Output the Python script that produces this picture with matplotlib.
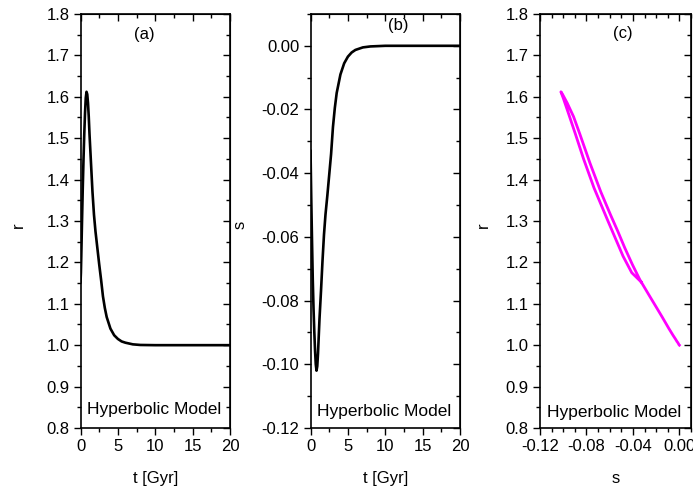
import matplotlib
matplotlib.use("Agg")
import matplotlib.pyplot as plt
from matplotlib.ticker import MultipleLocator

plt.rcParams['font.family'] = ['Liberation Sans', 'DejaVu Sans']
plt.rcParams['font.size'] = 12
plt.rcParams['axes.unicode_minus'] = False

# values (r and s of the hyperbolic model against cosmic time)
t_gyr = [0.0, 0.05, 0.1, 0.2, 0.3, 0.4, 0.5, 0.6, 0.7, 0.8,
         0.9, 1.0, 1.1, 1.2, 1.4, 1.6, 1.8, 2.0,
         2.25, 2.5, 2.75, 3.0, 3.25, 3.5,
         4.0, 4.5, 5.0, 5.5, 6.0,
         7.0, 8.0, 10.0, 15.0, 20.0]
r_vals = [1.153, 1.175, 1.215, 1.300, 1.380, 1.450, 1.510, 1.560, 1.597, 1.612,
          1.606, 1.585, 1.552, 1.510, 1.440, 1.370, 1.315, 1.275,
          1.235, 1.195, 1.158, 1.118, 1.090, 1.068,
          1.040, 1.024, 1.015, 1.009, 1.006,
          1.002, 1.0005, 1.0, 1.0, 1.0]
s_vals = [-0.0330, -0.0410, -0.0485, -0.0615, -0.0735, -0.0825, -0.0895, -0.0955, -0.1000, -0.1020,
          -0.1006, -0.0966, -0.0911, -0.0857, -0.0770, -0.0676, -0.0593, -0.0530,
          -0.0470, -0.0405, -0.0340, -0.0255, -0.0195, -0.0148,
          -0.0090, -0.0055, -0.0034, -0.0021, -0.0013,
          -0.0005, -0.0002, 0.0, 0.0, 0.0]

panel_tags = ['(a)', '(b)', '(c)']
model_name = 'Hyperbolic Model'


def style_axes(ax, xmaj, xmin, ymaj, ymin):
    # left/bottom ticks point out, top/right ticks point in (Origin look)
    ax.xaxis.set_major_locator(MultipleLocator(xmaj))
    ax.xaxis.set_minor_locator(MultipleLocator(xmin))
    ax.yaxis.set_major_locator(MultipleLocator(ymaj))
    ax.yaxis.set_minor_locator(MultipleLocator(ymin))
    ax.tick_params(which='both', direction='out', width=1.0, pad=3)
    ax.tick_params(which='major', length=5)
    ax.tick_params(which='minor', length=3)
    for sp in ax.spines.values():
        sp.set_linewidth(1.2)
    top = ax.secondary_xaxis('top')
    top.xaxis.set_major_locator(MultipleLocator(xmaj))
    top.xaxis.set_minor_locator(MultipleLocator(xmin))
    top.tick_params(which='both', direction='in', labeltop=False, width=1.0)
    top.tick_params(which='major', length=5)
    top.tick_params(which='minor', length=3)
    right = ax.secondary_yaxis('right')
    right.yaxis.set_major_locator(MultipleLocator(ymaj))
    right.yaxis.set_minor_locator(MultipleLocator(ymin))
    right.tick_params(which='both', direction='in', labelright=False, width=1.0)
    right.tick_params(which='major', length=5)
    right.tick_params(which='minor', length=3)


def place_labels(ax, ylab_x):
    ax.xaxis.label.set_verticalalignment('center')
    ax.yaxis.label.set_verticalalignment('center')
    ax.xaxis.set_label_coords(0.5, -0.121)
    ax.yaxis.set_label_coords(ylab_x, 0.49)


fig = plt.figure(figsize=(6.93, 4.88), dpi=100)
ax1 = fig.add_axes([0.1162, 0.1230, 0.2157, 0.8484])
ax2 = fig.add_axes([0.4481, 0.1230, 0.2157, 0.8484])
ax3 = fig.add_axes([0.7792, 0.1230, 0.2179, 0.8484])

# (a) r(t)
ax1.plot(t_gyr, r_vals, color='black', lw=1.9)
ax1.set_xlim(0, 20)
ax1.set_ylim(0.8, 1.8)
style_axes(ax1, 5, 2.5, 0.1, 0.05)
ax1.yaxis.set_major_formatter('{x:.1f}')
ax1.set_xlabel('t [Gyr]')
ax1.set_ylabel('r')
place_labels(ax1, -0.418)

# (b) s(t)
ax2.plot(t_gyr, s_vals, color='black', lw=1.9)
ax2.set_xlim(0, 20)
ax2.set_ylim(-0.12, 0.01)
style_axes(ax2, 5, 2.5, 0.02, 0.01)
ax2.yaxis.set_major_formatter('{x:.2f}')
ax2.set_xlabel('t [Gyr]')
ax2.set_ylabel('s')
place_labels(ax2, -0.47)

# (c) r against s
ax3.plot(s_vals, r_vals, color='#ff00ff', lw=2.0)
ax3.set_xlim(-0.12, 0.01)
ax3.set_ylim(0.8, 1.8)
style_axes(ax3, 0.04, 0.01, 0.1, 0.05)
ax3.xaxis.set_major_formatter('{x:.2f}')
ax3.yaxis.set_major_formatter('{x:.1f}')
ax3.set_xlabel('s')
ax3.set_ylabel('r')
place_labels(ax3, -0.377)

tag_pos = [(0.43, 0.95), (0.585, 0.972), (0.55, 0.954)]
model_pos = [(0.495, 0.045), (0.495, 0.04), (0.49, 0.037)]
for ax, tag, tp, mp in zip([ax1, ax2, ax3], panel_tags, tag_pos, model_pos):
    ax.text(tp[0], tp[1], tag, transform=ax.transAxes, ha='center', va='center', fontsize=12)
    ax.text(mp[0], mp[1], model_name, transform=ax.transAxes, ha='center', va='center', fontsize=12.5)

fig.savefig('out.png', dpi=100)
